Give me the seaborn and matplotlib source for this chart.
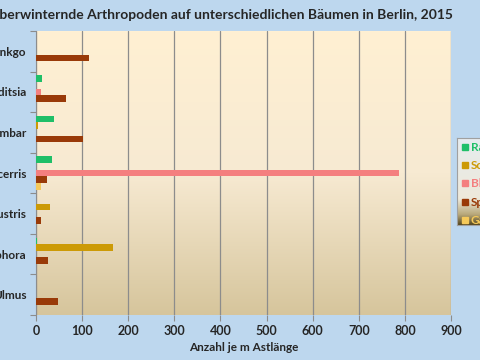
import numpy as np
import pandas as pd
import seaborn as sns
import matplotlib.pyplot as plt
from matplotlib.colors import LinearSegmentedColormap

# trees (top to bottom) and counts per m branch length
trees = ['Ginkgo', 'Gleditsia', 'Liquidambar', 'Quercus cerris',
         'Quercus palustris', 'Sophora', 'Ulmus']
series = ['Raubmilben', 'Schildläuse', 'Blattläuse', 'Spinnen', 'Gallmilben']

raubmilben = [0, 14, 38, 35, 0, 3, 0]
schildlaeuse = [0, 0, 5, 0, 30, 167, 0]
blattlaeuse = [0, 10, 0, 788, 0, 0, 0]
spinnen = [115, 66, 103, 23, 11, 27, 48]
gallmilben = [0, 0, 0, 10, 0, 0, 0]

colors = ['#1FBF68', '#CC9A06', '#F47F7F', '#993A08', '#F5C95A']

values = [raubmilben, schildlaeuse, blattlaeuse, spinnen, gallmilben]
rows = []
for s, vals in zip(series, values):
    for t, v in zip(trees, vals):
        rows.append({'Baum': t, 'Gruppe': s, 'Anzahl': v})
df = pd.DataFrame(rows)

sns.set_style('white')
plt.rcParams['font.family'] = ['Lato', 'DejaVu Sans']

fig = plt.figure(figsize=(4.8, 3.6), dpi=100)
fig.patch.set_facecolor('#BDD7EE')

rect = [36 / 480, 1 - 315 / 360, 415 / 480, 284 / 360]

# plot area gradient
bg = fig.add_axes(rect, zorder=0)
grad_cmap = LinearSegmentedColormap.from_list(
    'plotbg', ['#FFF0D3', '#F7EAD2', '#D6C59C'])
bg.imshow(np.linspace(0, 1, 256).reshape(-1, 1), aspect='auto',
          cmap=grad_cmap, extent=[0, 1, 0, 1])
bg.set_axis_off()

ax = fig.add_axes(rect, zorder=1)
ax.set_facecolor('none')

sns.barplot(data=df, y='Baum', x='Anzahl', hue='Gruppe', order=trees,
            hue_order=series, palette=colors, orient='h', width=0.82,
            saturation=1, ax=ax, legend=False, zorder=3, linewidth=0)

ax.set_xlim(0, 900)
ax.set_xticks(np.arange(0, 901, 100))
ax.set_ylim(len(trees) - 0.5, -0.5)
ax.xaxis.grid(True, color='#8C8C8C', linewidth=0.9, zorder=0)
ax.set_axisbelow(True)

# excel style ticks between categories
ax.set_yticks(np.arange(-0.5, len(trees), 1))
ax.set_yticklabels([])
ax.set_yticks(np.arange(len(trees)), minor=True)
ax.set_yticklabels(trees, minor=True, fontsize=8.5, fontweight='bold')
ax.tick_params(axis='y', which='major', length=4, color='#8C8C8C',
               direction='out', left=True)
ax.tick_params(axis='y', which='minor', length=0, pad=7)
ax.tick_params(axis='x', length=4, color='#8C8C8C', direction='out',
               bottom=True, labelsize=9, pad=3)
for lab in ax.get_xticklabels():
    lab.set_fontweight('bold')

for side in ['top', 'right', 'bottom']:
    ax.spines[side].set_visible(False)
ax.spines['left'].set_color('#8C8C8C')

ax.set_ylabel('')
ax.set_xlabel('Anzahl je m Astlänge', fontsize=8.5, fontweight='bold',
              labelpad=4)

fig.text(-0.022, 0.962,
         'Überwinternde Arthropoden auf unterschiedlichen Bäumen in Berlin, 2015',
         fontsize=10, fontweight='bold', ha='left', va='center')

# legend box with gradient
lg_rect = [457 / 480, 1 - 225 / 360, 40 / 480, 87 / 360]
lbg = fig.add_axes(lg_rect, zorder=2)
leg_cmap = LinearSegmentedColormap.from_list(
    'legbg', [(0, '#55461C'), (0.12, '#B8A87A'), (0.3, '#EEE9DA'),
              (1, '#E6ECEF')])
lbg.imshow(np.linspace(0, 1, 256).reshape(-1, 1), aspect='auto',
           cmap=leg_cmap, extent=[0, 1, 0, 1], origin='lower')
lbg.set_xticks([])
lbg.set_yticks([])
for sp in lbg.spines.values():
    sp.set_color('#A0A0A0')

handles = [plt.Line2D([], [], marker='s', linestyle='', markersize=4,
                      color=c) for c in colors]
leg = fig.legend(handles, series, loc='upper left',
                 bbox_to_anchor=(457 / 480, 1 - 137 / 360), frameon=False,
                 fontsize=8.5, handlelength=0.5, handletextpad=0.25,
                 labelspacing=0.62, borderaxespad=0)
leg.set_zorder(3)
for txt, c in zip(leg.get_texts(), colors):
    txt.set_color(c)
    txt.set_fontweight('bold')

fig.savefig('out.png', dpi=100)
